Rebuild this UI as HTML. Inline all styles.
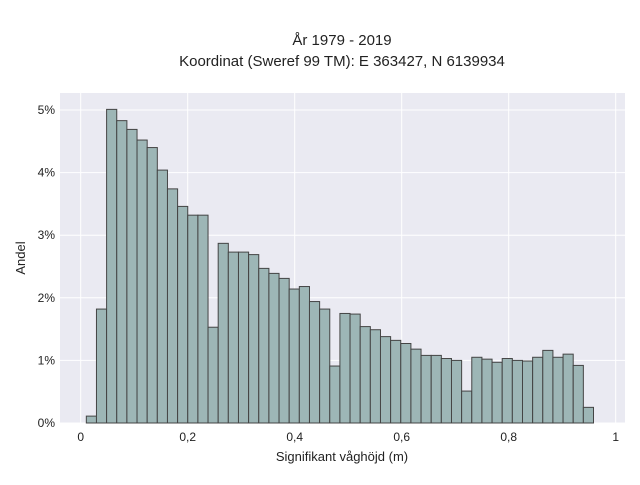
<!DOCTYPE html>
<html><head><meta charset="utf-8"><style>
body{margin:0;background:#fff;font-family:"Liberation Sans",sans-serif;}
svg text{font-family:"Liberation Sans",sans-serif;fill:#222;}
</style></head><body>
<svg id="chart" width="640" height="480" xmlns="http://www.w3.org/2000/svg">
<rect x="0" y="0" width="640" height="480" fill="#fff"/>
<text x="342" y="45" font-size="15" text-anchor="middle">År 1979 - 2019</text>
<text x="342" y="66" font-size="15" text-anchor="middle">Koordinat (Sweref 99 TM): E 363427, N 6139934</text>
<rect x="60" y="93" width="565" height="330" fill="#eaeaf2"/>
<g id="grid"></g>
<g id="bars"></g>
<g id="ticks"></g>
<text x="342" y="461" font-size="13" text-anchor="middle">Signifikant våghöjd (m)</text>
<text x="0" y="0" font-size="13" text-anchor="middle" transform="translate(25,258) rotate(-90)">Andel</text>
</svg>
<script>
const binStart = 0.0105;
const binEnd = 0.9585;
const values = [0.11,1.82,5.01,4.83,4.69,4.52,4.40,4.04,3.74,3.46,3.32,3.32,1.53,2.87,2.73,2.73,2.69,2.47,2.39,2.31,2.14,2.18,1.94,1.82,0.91,
1.75,1.74,1.54,1.49,1.38,1.32,1.27,1.18,1.08,1.08,1.03,1.00,0.51,1.05,1.02,0.97,1.03,1.00,0.99,1.05,1.16,1.05,1.10,0.92,0.25];
const xTicks = [0,0.2,0.4,0.6,0.8,1];
const xTickLabels = ["0","0,2","0,4","0,6","0,8","1"];
const yTicks = [0,1,2,3,4,5];
const yTickLabels = ["0%","1%","2%","3%","4%","5%"];
const NS="http://www.w3.org/2000/svg";
const xs = v => 80.7 + v*535;
const ys = v => 423 - v*62.6;
const grid=document.getElementById('grid'), bars=document.getElementById('bars'), ticks=document.getElementById('ticks');
function mk(tag,attrs,parent){const e=document.createElementNS(NS,tag);for(const k in attrs)e.setAttribute(k,attrs[k]);parent.appendChild(e);return e;}
xTicks.forEach((t,i)=>{
  const l=mk('line',{x1:xs(t),x2:xs(t),y1:93,y2:423,stroke:'#fff','stroke-width':1},grid);
  
  
  const tx=mk('text',{x:xs(t),y:441,'font-size':12,'text-anchor':'middle'},ticks);
  tx.textContent=xTickLabels[i];
  
  
});
yTicks.forEach((t,i)=>{
  const l=mk('line',{x1:60,x2:625,y1:ys(t),y2:ys(t),stroke:'#fff','stroke-width':1},grid);
  
  
  const tx=mk('text',{x:55,y:ys(t)+4,'font-size':12,'text-anchor':'end'},ticks);
  tx.textContent=yTickLabels[i];
  
  
});
const bw=(binEnd-binStart)/values.length;
values.forEach((v,i)=>{
  const x0=xs(binStart+i*bw), x1=xs(binStart+(i+1)*bw);
  const r=mk('rect',{x:x0,y:ys(v),width:x1-x0,height:ys(0)-ys(v),fill:'#9db6b6',stroke:'#444','stroke-width':1},bars);
  
  
});
</script>
</body></html>
